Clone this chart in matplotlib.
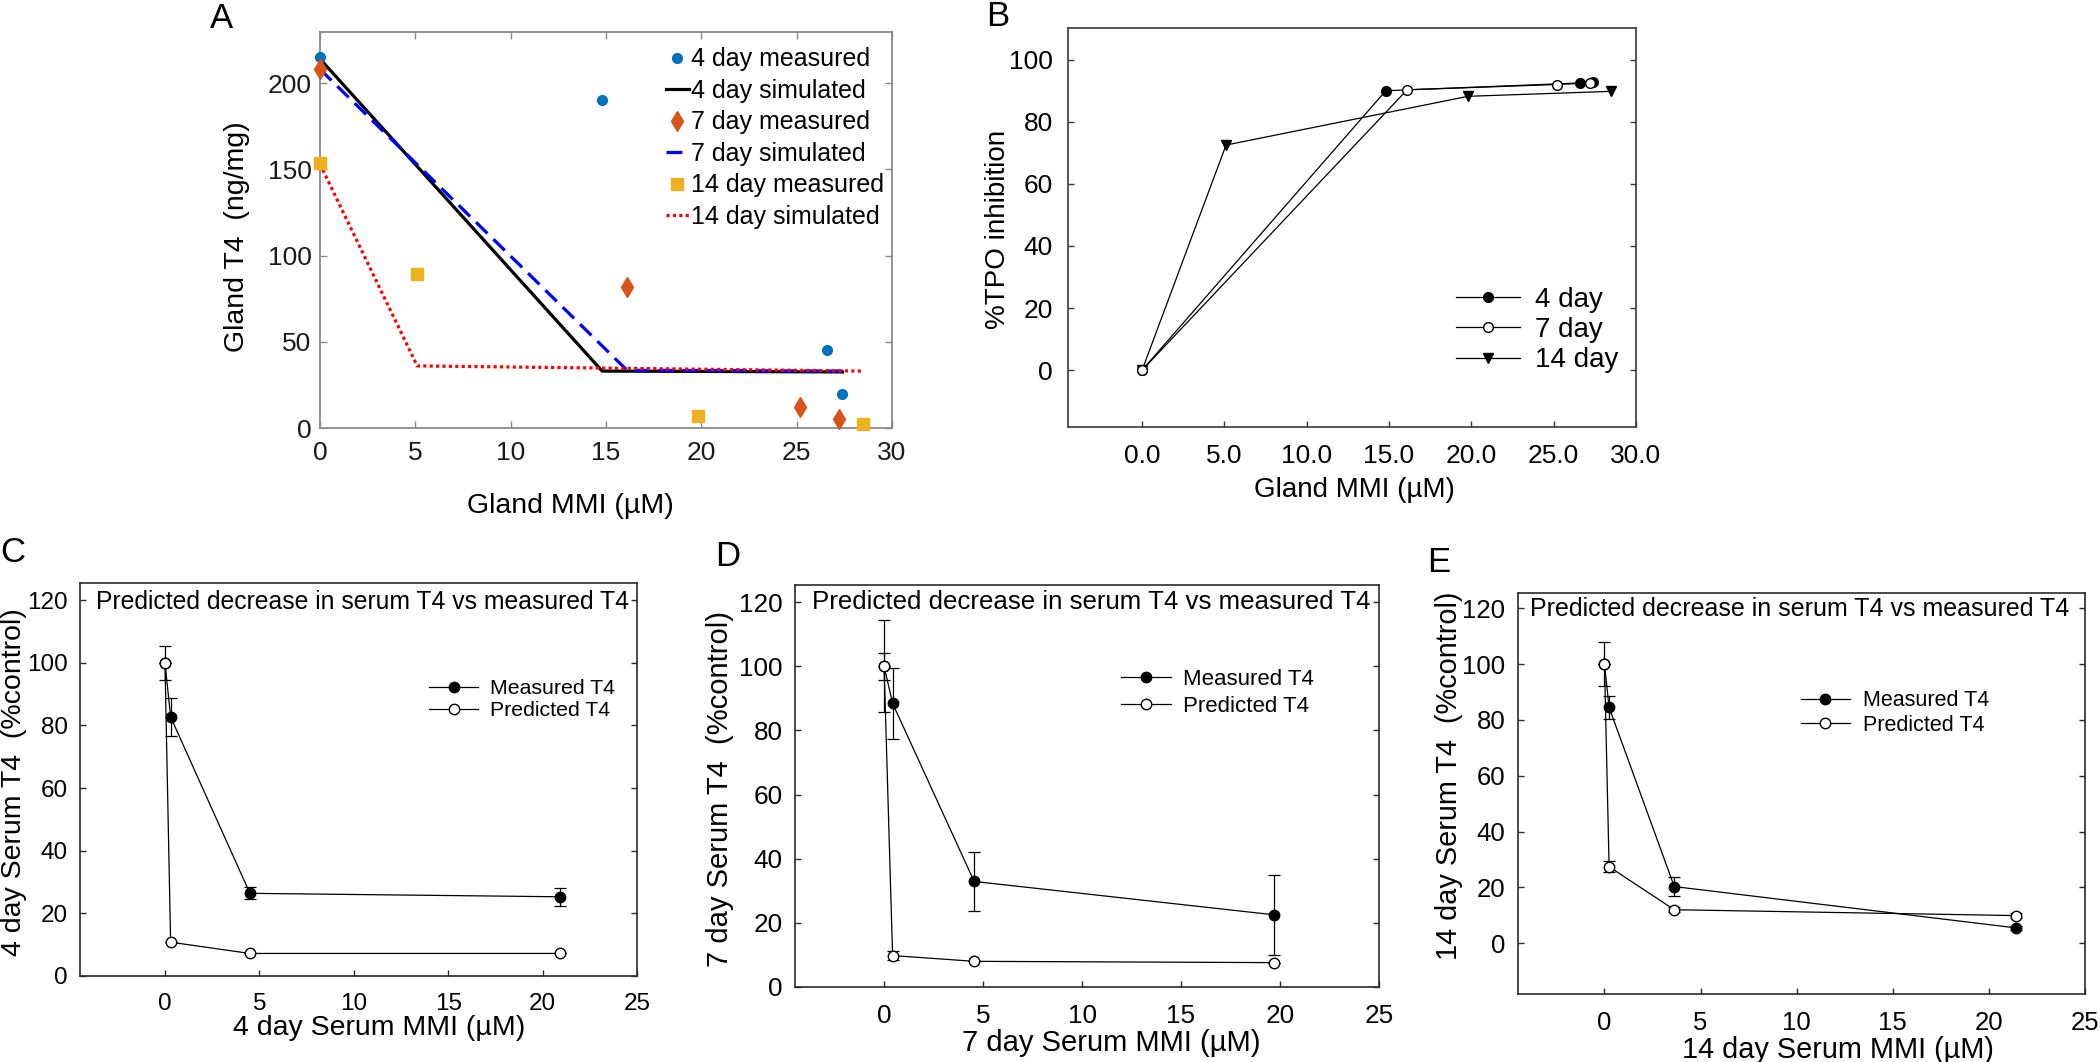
import matplotlib
matplotlib.use('Agg')
import matplotlib.pyplot as plt
from matplotlib.ticker import FormatStrFormatter

plt.rcParams['font.family'] = ['Liberation Sans', 'DejaVu Sans']

# ---------------- Panel A data: Gland T4 vs Gland MMI ----------------
a_meas4_x = [0, 14.8, 26.6, 27.4]
a_meas4_y = [215, 190, 45, 20]
a_meas7_x = [0, 16.1, 25.2, 27.2]
a_meas7_y = [208, 82, 12, 5]
a_meas14_x = [0, 5.1, 19.8, 28.5]
a_meas14_y = [153.5, 89.5, 7, 2.5]
a_sim4_x = [0, 14.8, 27.4]
a_sim4_y = [214, 33, 32.5]
a_sim7_x = [0, 16.1, 27.4]
a_sim7_y = [208, 33.5, 33]
a_sim14_x = [0, 5.1, 28.5]
a_sim14_y = [153, 36, 33]
a_labels = ['4 day measured', '4 day simulated', '7 day measured',
            '7 day simulated', '14 day measured', '14 day simulated']

# ---------------- Panel B data: %TPO inhibition ----------------
b_x4 = [0, 14.8, 26.6, 27.4]
b_y4 = [0, 90, 92.5, 92.8]
b_x7 = [0, 16.1, 25.2, 27.2]
b_y7 = [0, 90.3, 92, 92.5]
b_x14 = [0, 5.1, 19.8, 28.5]
b_y14 = [0, 72.5, 88.2, 89.8]
b_labels = ['4 day', '7 day', '14 day']

# ---------------- Panels C-E data: serum T4 ----------------
c_x = [0, 0.3, 4.5, 20.9]
c_meas = [100, 82.7, 26.4, 25.3]
c_meas_err = [5.5, 6.2, 1.9, 2.8]
c_pred = [100, 10.8, 7.2, 7.2]
c_pred_err = [0, 0, 0, 0]

d_x = [0, 0.43, 4.55, 19.7]
d_meas = [100, 88.4, 32.9, 22.5]
d_meas_err = [14.4, 11.0, 9.3, 12.5]
d_pred = [100, 9.8, 8.0, 7.6]
d_pred_err = [4.2, 1.4, 0, 0]

e_x = [0, 0.24, 3.63, 21.4]
e_meas = [100, 84.5, 20.3, 5.5]
e_meas_err = [7.8, 4.0, 3.4, 0.8]
e_pred = [100, 27.4, 12.0, 9.9]
e_pred_err = [0, 2.0, 0.8, 0.8]

serum_legend = ['Measured T4', 'Predicted T4']
annot = 'Predicted decrease in serum T4 vs measured T4'

W, H = 2100, 1062
fig = plt.figure(figsize=(W / 100, H / 100), dpi=100)


def rect(l, r, t, b):
    return [l / W, 1 - b / H, (r - l) / W, (b - t) / H]


# ======================= Panel A =======================
axA = fig.add_axes(rect(320, 892, 32, 428))
blue, orange, yellow = '#0072BD', '#D95319', '#EDB120'
h1, = axA.plot(a_meas4_x, a_meas4_y, 'o', color=blue, ms=7, clip_on=False, zorder=4)
h2, = axA.plot(a_sim4_x, a_sim4_y, '-', color='black', lw=2.3, zorder=3)
h3, = axA.plot(a_meas7_x, a_meas7_y, 'd', color=orange, ms=10, clip_on=False, zorder=4)
h4, = axA.plot(a_sim7_x, a_sim7_y, '-', color='#0000FF', lw=2.3, dashes=(5, 2.6), zorder=3)
h5, = axA.plot(a_meas14_x, a_meas14_y, 's', color=yellow, ms=8, clip_on=False, zorder=4)
h6, = axA.plot(a_sim14_x, a_sim14_y, '-', color='#FF0000', lw=2.3, dashes=(1, 1), zorder=3)
axA.set_xlim(0, 30)
axA.set_ylim(0, 229.6)
axA.set_xticks([0, 5, 10, 15, 20, 25, 30])
axA.set_yticks([0, 50, 100, 150, 200])
for s in axA.spines.values():
    s.set_color('#8a8a8a')
    s.set_linewidth(1.3)
axA.tick_params(direction='in', length=5, width=1, color='#8a8a8a', labelcolor='#1a1a1a',
                top=True, right=True, labelsize=19)
axA.tick_params(axis='x', pad=9)
axA.tick_params(axis='y', pad=6)
axA.set_xlabel('Gland MMI (\u00b5M)', fontsize=20.5)
axA.set_ylabel('Gland T4  (ng/mg)', fontsize=20.5)
axA.xaxis.set_label_coords(0.437, -0.197)
axA.xaxis.label.set_va('center')
axA.yaxis.set_label_coords(-0.145, 0.482)
axA.yaxis.label.set_va('center')
axA.legend([h1, h2, h3, h4, h5, h6], a_labels, loc='center left',
           bbox_to_anchor=(0.605, 0.732), borderpad=0, borderaxespad=0,
           frameon=False, fontsize=18, handlelength=0.9, handletextpad=0.1,
           labelspacing=0.30, numpoints=1)

# ======================= Panel B =======================
axB = fig.add_axes(rect(1068, 1636, 28, 427))
k = 'black'
g1, = axB.plot(b_x4, b_y4, '-o', color=k, lw=0.9, ms=7, mfc=k, mec=k, zorder=3)
g2, = axB.plot(b_x7, b_y7, '-o', color=k, lw=0.9, ms=7, mfc='white', mec=k, zorder=4)
g3, = axB.plot(b_x14, b_y14, '-v', color=k, lw=0.9, ms=7, mfc=k, mec=k, zorder=3)
axB.set_xlim(-4.5, 30)
axB.set_ylim(-18.3, 110.2)
axB.set_xticks([0, 5, 10, 15, 20, 25, 30])
axB.set_yticks([0, 20, 40, 60, 80, 100])
axB.xaxis.set_major_formatter(FormatStrFormatter('%.1f'))
for s in axB.spines.values():
    s.set_color('#3a3a3a')
    s.set_linewidth(1.2)
axB.tick_params(direction='in', length=4, width=1, color='#3a3a3a', right=True, labelsize=19)
axB.tick_params(axis='x', pad=12)
axB.tick_params(axis='y', pad=11)
axB.set_xlabel('Gland MMI (\u00b5M)', fontsize=20)
axB.set_ylabel('%TPO inhibition', fontsize=20)
axB.xaxis.set_label_coords(0.505, -0.158)
axB.xaxis.label.set_va('center')
axB.yaxis.set_label_coords(-0.123, 0.494)
axB.yaxis.label.set_va('center')
axB.legend([g1, g2, g3], b_labels, loc='center left', bbox_to_anchor=(0.683, 0.243),
           borderpad=0, borderaxespad=0, frameon=False, fontsize=20,
           handlelength=2.3, handletextpad=0.54, labelspacing=0.16, numpoints=1)


# ======================= Panels C-E =======================
def serum_panel(r, x, meas, meas_err, pred, pred_err, xlabel, ylabel, tick_fs, lab_fs,
                leg_fs, leg_xy, leg_hl, leg_pad, leg_ls, ann_xy, ann_fs, xl_xy, yl_xy, ylim):
    ax = fig.add_axes(r)
    ax.errorbar(x, meas, yerr=meas_err, fmt='none', ecolor='black', elinewidth=0.9,
                capsize=4.5, capthick=0.9, zorder=2)
    hm, = ax.plot(x, meas, '-o', color='black', lw=0.9, ms=7.5, mfc='black', mec='black', zorder=3)
    ax.errorbar(x, pred, yerr=pred_err, fmt='none', ecolor='black', elinewidth=0.9,
                capsize=4.5, capthick=0.9, zorder=4)
    hp, = ax.plot(x, pred, '-o', color='black', lw=0.9, ms=7.5, mfc='white', mec='black', zorder=5)
    ax.set_xlim(-4.5, 25)
    ax.set_ylim(*ylim)
    ax.set_xticks([0, 5, 10, 15, 20, 25])
    ax.set_yticks([0, 20, 40, 60, 80, 100, 120])
    for s in ax.spines.values():
        s.set_color('#2a2a2a')
        s.set_linewidth(1.2)
    ax.tick_params(direction='in', length=4, width=1, color='#2a2a2a', right=True,
                   labelsize=tick_fs)
    ax.tick_params(axis='x', pad=12)
    ax.tick_params(axis='y', pad=9)
    ax.set_xlabel(xlabel, fontsize=lab_fs)
    ax.set_ylabel(ylabel, fontsize=lab_fs)
    ax.xaxis.set_label_coords(*xl_xy)
    ax.xaxis.label.set_va('center')
    ax.yaxis.set_label_coords(*yl_xy)
    ax.yaxis.label.set_va('center')
    ax.text(ann_xy[0], ann_xy[1], annot, transform=ax.transAxes, ha='left', va='center',
            fontsize=ann_fs)
    ax.legend([hm, hp], serum_legend, loc='center left', bbox_to_anchor=leg_xy,
              borderpad=0, borderaxespad=0, frameon=False, fontsize=leg_fs,
              handlelength=leg_hl, handletextpad=leg_pad, labelspacing=leg_ls, numpoints=1)
    return ax


serum_panel(rect(80, 637, 583, 976), c_x, c_meas, c_meas_err, c_pred, c_pred_err,
            '4 day Serum MMI (\u00b5M)', '4 day Serum T4  (%control)', 17.5, 20.5,
            15.3, (0.627, 0.7025), 2.3, 0.56, 0.14, (0.029, 0.952), 17.8,
            (0.537, -0.132), (-0.118, 0.494), (0, 125.5))
serum_panel(rect(795, 1379, 585, 987), d_x, d_meas, d_meas_err, d_pred, d_pred_err,
            '7 day Serum MMI (\u00b5M)', '7 day Serum T4  (%control)', 18.8, 21,
            16, (0.558, 0.7315), 2.25, 0.54, 0.24, (0.029, 0.958), 18.6,
            (0.541, -0.139), (-0.128, 0.493), (0, 125.3))
serum_panel(rect(1518, 2085, 593, 994), e_x, e_meas, e_meas_err, e_pred, e_pred_err,
            '14 day Serum MMI (\u00b5M)', '14 day Serum T4  (%control)', 18.5, 20.8,
            15.5, (0.499, 0.701), 2.28, 0.6, 0.15, (0.021, 0.960), 18,
            (0.564, -0.140), (-0.122, 0.544), (-18.2, 125.5))

# panel letters
for letter, (px, py) in zip('ABCDE', [(222, 18), (998, 16), (13, 553), (728, 557), (1439, 563)]):
    fig.text(px / W, 1 - py / H, letter, fontsize=25, ha='center', va='center')

fig.savefig('out.png', dpi=100)
